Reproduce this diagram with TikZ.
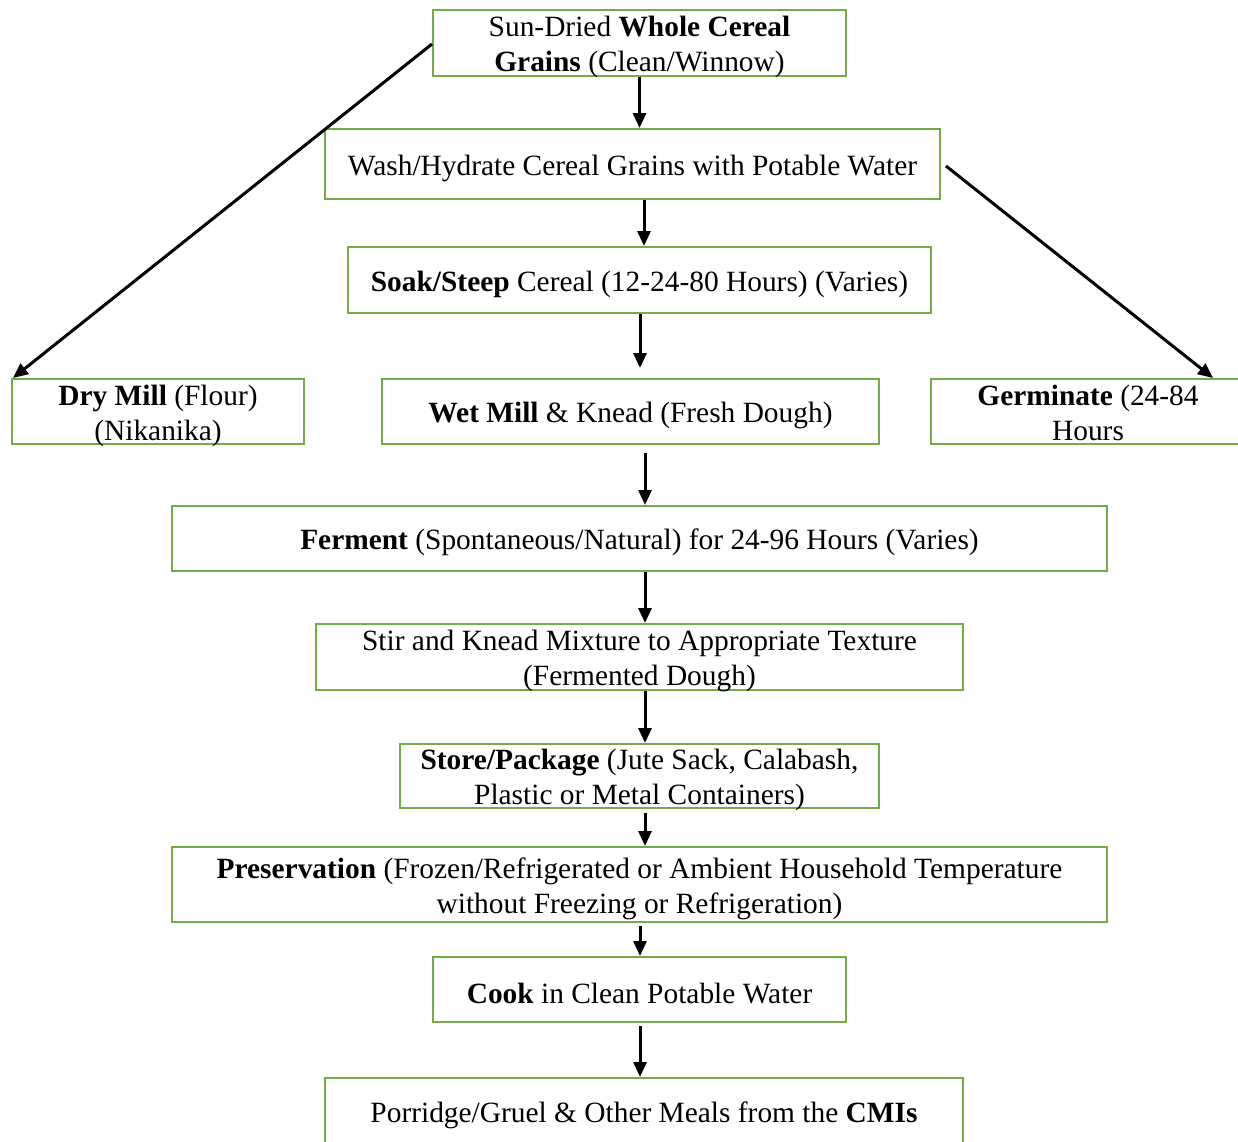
\documentclass[tikz,border=0pt]{standalone}
\usepackage{fontspec}
\setmainfont{Liberation Serif}
\usetikzlibrary{arrows.meta}
\definecolor{boxgreen}{RGB}{112,173,71}
\tikzset{
  box/.style={draw=boxgreen, line width=2pt, fill=white, rectangle, inner sep=0pt},
  txt/.style={inner sep=0pt, align=center, font=\fontsize{29.4}{35}\selectfont},
  arr/.style={line width=3pt, -{Triangle[length=15pt,width=13pt]}},
}
% a framed step: frame node #2, its text node #2-t set #1 below the frame centre
\newcommand\flowstep[7][4pt]{%
  \node[box, minimum width=#5, minimum height=#6] (#2) at (#3,#4) {};
  \node[txt] (#2-t) at ([yshift=-#1]#2.center) {#7};}
\begin{document}
\begin{tikzpicture}[x=1pt,y=-1pt]
\useasboundingbox (0,0) rectangle (1238,1141);

% process steps
\flowstep{grains}{639.5}{43}{413}{66}
  {Sun-Dried \textbf{Whole Cereal}\\\textbf{Grains} (Clean/Winnow)}
\flowstep{wash}{632.5}{164}{615}{70}
  {Wash/Hydrate Cereal Grains with Potable Water}
\flowstep{soak}{639.5}{280}{583}{66}
  {\textbf{Soak/Steep} Cereal (12-24-80 Hours) (Varies)}
\flowstep{dry}{158}{411.5}{292}{65}
  {\textbf{Dry Mill} (Flour)\\(Nikanika)}
\flowstep{wet}{630.5}{411.5}{497}{65}
  {\textbf{Wet Mill} \& Knead (Fresh Dough)}
\flowstep[1pt]{germ}{1088}{411.5}{314}{65}
  {\textbf{Germinate} (24-84\\Hours}
\flowstep{ferm}{639.5}{538.5}{935}{65}
  {\textbf{Ferment} (Spontaneous/Natural) for 24-96 Hours (Varies)}
\flowstep{stir}{639.5}{657}{647}{66}
  {Stir and Knead Mixture to Appropriate Texture\\(Fermented Dough)}
\flowstep{store}{639.5}{776}{479}{64}
  {\textbf{Store/Package} (Jute Sack, Calabash,\\Plastic or Metal Containers)}
\flowstep{pres}{639.5}{884.5}{935}{75}
  {\textbf{Preservation} (Frozen/Refrigerated or Ambient Household Temperature\\without Freezing or Refrigeration)}
\flowstep{cook}{639.5}{989.5}{413}{65}
  {\textbf{Cook} in Clean Potable Water}
\flowstep[1pt]{porr}{644}{1114}{638}{72}
  {Porridge/Gruel \& Other Meals from the \textbf{CMIs}}

% vertical flow
\draw[arr] (grains.south) -- (grains.south |- wash.north);
\draw[arr] ([xshift=11.5pt]wash.south) coordinate (w1) -- (w1 |- soak.north);
\draw[arr] ([xshift=0.5pt]soak.south) coordinate (s1) -- ([yshift=10pt]s1 |- wet.north);
\draw[arr] ([xshift=14.5pt,yshift=-8pt]wet.south) coordinate (m1) -- (m1 |- ferm.north);
\draw[arr] ([xshift=5.5pt]ferm.south) coordinate (f1) -- (f1 |- stir.north);
\draw[arr] ([xshift=5.5pt]stir.south) coordinate (k1) -- (k1 |- store.north);
\draw[arr] ([xshift=5.5pt,yshift=-4pt]store.south) coordinate (p1) -- (p1 |- pres.north);
\draw[arr] ([xshift=0.5pt,yshift=-3pt]pres.south) coordinate (c1) -- (c1 |- cook.north);
\draw[arr] ([xshift=0.5pt,yshift=-3pt]cook.south) coordinate (o1) -- (o1 |- porr.north);

% side branches
\draw[arr] ([yshift=-1pt]grains.west) -- ([xshift=2pt]dry.north west);
\draw[arr] ([xshift=5pt,yshift=-2pt]wash.east) -- ([xshift=125pt]germ.north);
\end{tikzpicture}
\end{document}
